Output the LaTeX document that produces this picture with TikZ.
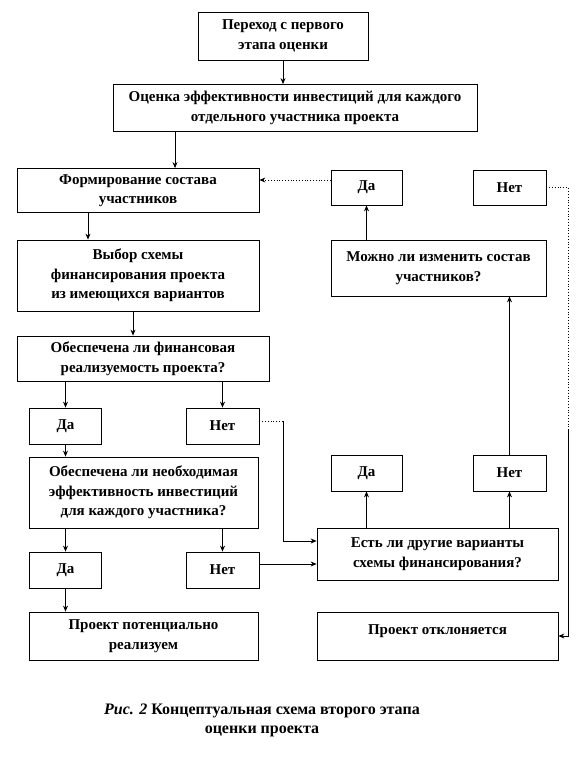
\documentclass[tikz,border=0pt]{standalone}
\usepackage{fontspec}
\setmainfont{Liberation Serif}
\usetikzlibrary{arrows.meta,positioning,calc}

\begin{document}
\begin{tikzpicture}[
  x=1pt, y=-1pt,
  box/.style={draw, line width=0.8pt, align=center, inner sep=2pt, font=\fontsize{15}{19.5}\selectfont\bfseries},
  >={Stealth[length=6pt,width=5pt]}, line width=0.8pt
]
  \useasboundingbox (0,0) rectangle (587,768);
  % top chain
  \node[box, minimum width=170pt, minimum height=48pt] (start) at (283,36) {Переход с первого\\этапа оценки};
  \node[box, minimum width=364pt, minimum height=47pt] (eval) at (295,108) {Оценка эффективности инвестиций для каждого\\отдельного участника проекта};
  \node[box, minimum width=242pt, minimum height=44pt] (form) at (138,190.5) {Формирование состава\\участников};
  \node[box, minimum width=71pt, minimum height=35pt] (daTop) at (366.5,187.5) {Да};
  \node[box, minimum width=73pt, minimum height=35pt] (netTop) at (509.5,187.5) {Нет};
  \node[box, minimum width=242pt, minimum height=71pt] (choose) at (138,275.5) {Выбор схемы\\финансирования проекта\\из имеющихся вариантов};
  \node[box, minimum width=215pt, minimum height=56pt] (canChange) at (438.5,268) {Можно ли изменить состав\\участников?};
  \node[box, minimum width=252pt, minimum height=45pt] (finOk) at (143,358.5) {Обеспечена ли финансовая\\реализуемость проекта?};
  % first answers
  \node[box, minimum width=72pt, minimum height=36pt] (daA) at (65.5,426) {Да};
  \node[box, minimum width=73pt, minimum height=36pt] (netA) at (222.5,426) {Нет};
  \node[box, minimum width=229pt, minimum height=71pt] (effOk) at (143.5,492.5) {Обеспечена ли необходимая\\эффективность инвестиций\\для каждого участника?};
  \node[box, minimum width=71pt, minimum height=36pt] (daB) at (366.5,473) {Да};
  \node[box, minimum width=73pt, minimum height=36pt] (netB) at (509.5,473) {Нет};
  \node[box, minimum width=241pt, minimum height=52pt] (other) at (437.5,554) {Есть ли другие варианты\\схемы финансирования?};
  % second answers
  \node[box, minimum width=72pt, minimum height=36pt] (daC) at (65.5,570) {Да};
  \node[box, minimum width=73pt, minimum height=36pt] (netC) at (222.5,570) {Нет};
  \node[box, minimum width=229pt, minimum height=48pt] (feasible) at (143.5,636) {Проект потенциально\\реализуем};
  \node[box, minimum width=241pt, minimum height=48pt, text depth=12pt] (reject) at (437.5,636) {Проект отклоняется};
  \node[align=center, font=\fontsize{16}{19}\selectfont\bfseries] (caption) at (262,720)
    {\textit{Рис. 2} Концептуальная схема второго этапа\\оценки проекта};

  \coordinate (turnA) at (283,421);
  \coordinate (turnR) at (568,430);

  \draw[->] (start.south) -- (start.south |- eval.north);
  \draw[->] ([xshift=-120pt]eval.south) -- ([xshift=-120pt]eval.south |- form.north);
  \draw[->] ([xshift=-50pt]form.south) -- ([xshift=-50pt]form.south |- choose.north);
  \draw[->] ([xshift=-5pt]choose.south) -- ([xshift=-5pt]choose.south |- finOk.north);
  \draw[->] (finOk.south -| daA) -- (daA.north);
  \draw[->] (finOk.south -| netA) -- (netA.north);
  \draw[->] (daA) -- (effOk.north -| daA);
  \draw[->] (effOk.south -| daC) -- (daC.north);
  \draw[->] (effOk.south -| netC) -- (netC.north);
  \draw[->] (daC) -- (feasible.north -| daC);
  \draw[->] ([yshift=6pt]netC.east) -- ([yshift=6pt]netC.east -| other.west);
  \draw[dotted] ([yshift=5pt]netA.east) -- (turnA);
  \draw[->] (turnA) |- ([yshift=13pt]other.west);
  \draw[->] (other.north -| daB) -- (daB.south);
  \draw[->] (other.north -| netB) -- (netB.south);
  \draw[->] (netB) -- (canChange.south -| netB);
  \draw[->] (canChange.north -| daTop) -- (daTop.south);
  \draw[->, dotted] ([yshift=7.5pt]daTop.west) -- ([yshift=7.5pt]daTop.west -| form.east);
  \draw[dotted] (netTop.east) -| (turnR);
  \draw[->] (turnR) |- (reject.east);
\end{tikzpicture}
\end{document}
